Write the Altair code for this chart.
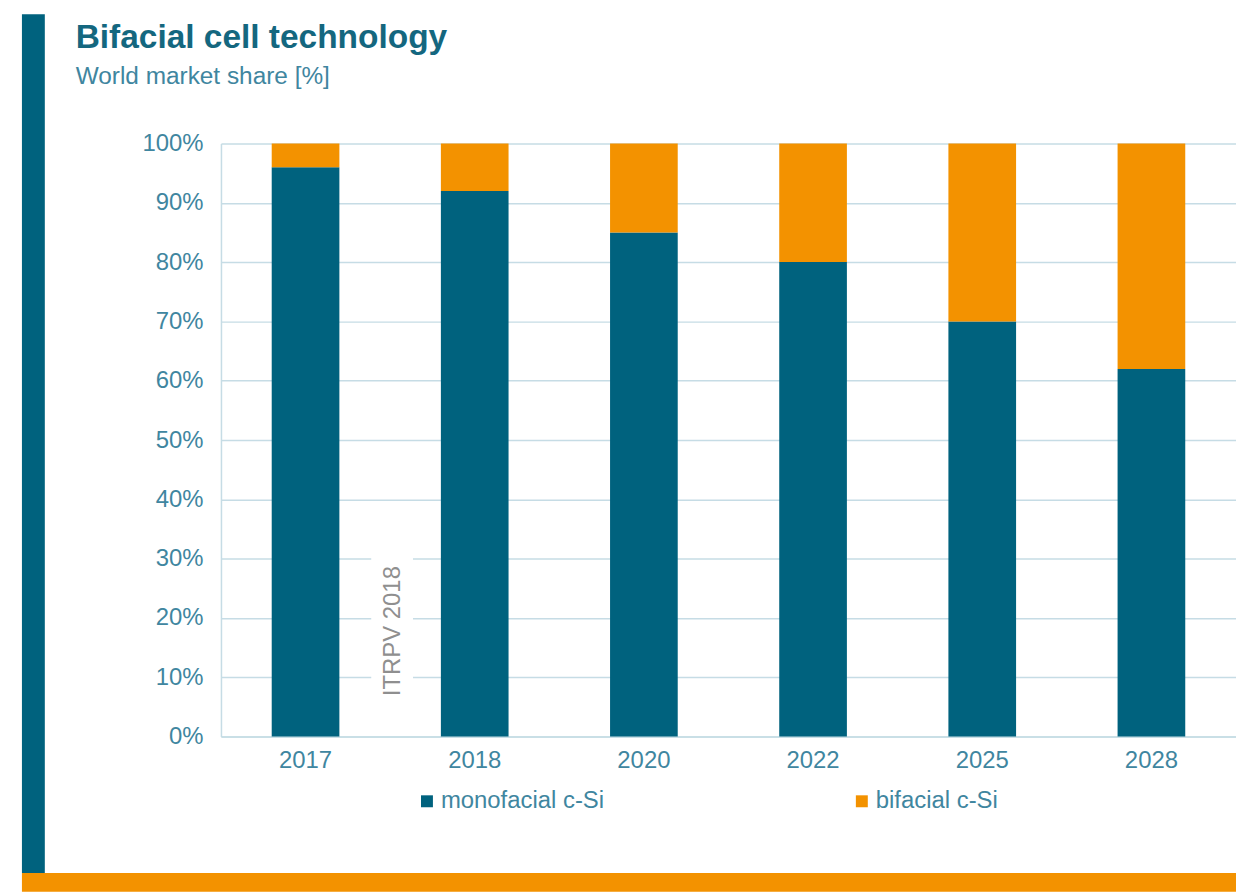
import altair as alt
import pandas as pd

# ---- data ----
years = ["2017", "2018", "2020", "2022", "2025", "2028"]
mono = [96, 92, 85, 80, 70, 62]
bifacial = [4, 8, 15, 20, 30, 38]
series = ["monofacial c-Si", "bifacial c-Si"]
colors = ["#00627E", "#F39200"]
y_ticks = [0, 10, 20, 30, 40, 50, 60, 70, 80, 90, 100]
watermark = ["ITRPV 2018"]
title_text = ["Bifacial cell technology"]
subtitle_text = ["World market share [%]"]

rows = []
for i, yr in enumerate(years):
    rows.append({"year": yr, "series": series[0], "share": mono[i], "order": 0})
    rows.append({"year": yr, "series": series[1], "share": bifacial[i], "order": 1})
df = pd.DataFrame(rows)

FONT = "Liberation Sans"
TEAL = "#00627E"
ORANGE = "#F39200"
GRID = "#c6dce5"
LBL = "#3f86a0"
TITLE_C = "#14677f"
W, H = 1020, 596

bars = alt.Chart(df).mark_bar().encode(
    x=alt.X("year:N", sort=years,
            scale=alt.Scale(paddingInner=0.6, paddingOuter=0.3),
            axis=alt.Axis(title=None, labelAngle=0, ticks=False, domainColor=GRID,
                          domainWidth=1.5, labelFontSize=24, labelColor=LBL,
                          labelFont=FONT, labelPadding=12, grid=False)),
    y=alt.Y("share:Q", stack="zero",
            scale=alt.Scale(domain=[0, 100], nice=False),
            axis=alt.Axis(title=None, values=y_ticks, labelExpr="datum.value + '%'",
                          ticks=False, domainColor=GRID, domainWidth=1.5,
                          gridColor=GRID, gridWidth=1.5, labelFontSize=24,
                          labelColor=LBL, labelFont=FONT, labelPadding=18)),
    color=alt.Color("series:N", scale=alt.Scale(domain=series, range=colors),
                    legend=alt.Legend(title=None, orient="none", legendX=195, legendY=649,
                                      direction="horizontal", symbolType="square",
                                      symbolSize=144, symbolStrokeWidth=0,
                                      symbolOpacity=1, labelFontSize=24,
                                      labelColor=LBL, labelFont=FONT, labelOffset=2,
                                      labelLimit=300, columnPadding=246)),
    order=alt.Order("order:Q"),
)

one = pd.DataFrame({"a": [0]})

left_bar = alt.Chart(one).mark_rect(color=TEAL).encode(
    x=alt.value(-200), x2=alt.value(-177), y=alt.value(-130), y2=alt.value(733))

bottom_bar = alt.Chart(one).mark_rect(color=ORANGE).encode(
    x=alt.value(-200), x2=alt.value(1022), y=alt.value(733), y2=alt.value(752))

mask = alt.Chart(one).mark_rect(color="white").encode(
    x=alt.value(151), x2=alt.value(193), y=alt.value(404), y2=alt.value(580))

wm = alt.Chart(pd.DataFrame({"label": watermark})).mark_text(
    angle=270, font=FONT, fontSize=24, color="#8f8f8f", align="center", baseline="middle"
).encode(x=alt.value(173), y=alt.value(490), text="label:N")

title = alt.Chart(pd.DataFrame({"t": title_text})).mark_text(
    font=FONT, fontSize=33.6, fontWeight="bold", color=TITLE_C,
    align="left", baseline="alphabetic"
).encode(x=alt.value(-146), y=alt.value(-96), text="t:N")

subtitle = alt.Chart(pd.DataFrame({"t": subtitle_text})).mark_text(
    font=FONT, fontSize=24.5, color=LBL, align="left", baseline="alphabetic"
).encode(x=alt.value(-146), y=alt.value(-60), text="t:N")

chart = alt.layer(left_bar, bottom_bar, bars, mask, wm, title, subtitle).properties(
    width=W, height=H,
    padding={"left": 214, "top": 134, "right": 0, "bottom": 155},
    autosize=alt.AutoSizeParams(type="none"),
).configure_view(stroke=None)

chart.save("out.html", embed_options={"renderer": "svg", "actions": False})
